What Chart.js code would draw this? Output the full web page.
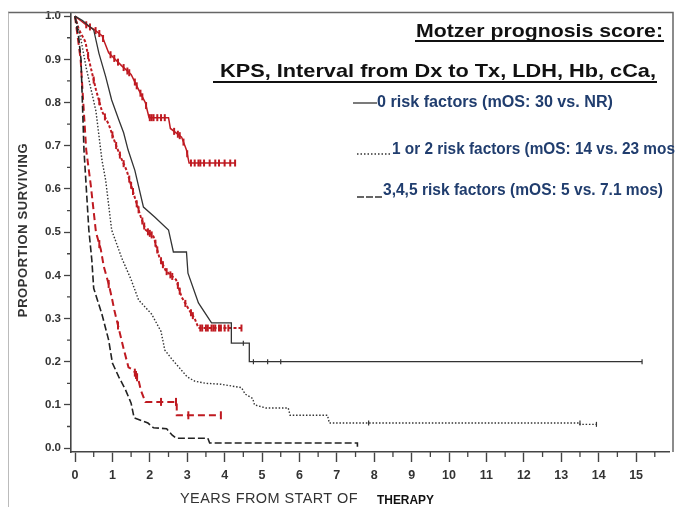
<!DOCTYPE html>
<html>
<head>
<meta charset="utf-8">
<script src="https://cdn.jsdelivr.net/npm/chart.js@4.4.1/dist/chart.umd.min.js"></script>
<style>
  html, body { margin: 0; padding: 0; background: #fff; }
  #km { display: block; }
</style>
</head>
<body>
<canvas id="km" width="675" height="507"></canvas>
<script>
// axis ticks
const yearTicks = [0, 1, 2, 3, 4, 5, 6, 7, 8, 9, 10, 11, 12, 13, 14, 15];
const survTicks = [0, 0.1, 0.2, 0.3, 0.4, 0.5, 0.6, 0.7, 0.8, 0.9, 1.0];

// earlier cohort (black curves)
const histZeroT = [0, 0.2, 0.5, 0.64, 0.82, 0.98, 1.17, 1.3, 1.42, 1.6, 1.83, 2.13, 2.5, 2.63, 2.98, 3.02, 3.3, 3.65, 4.18, 4.18, 4.66, 4.66, 15.16];
const histZeroS = [1.0, 0.99, 0.968, 0.914, 0.86, 0.806, 0.76, 0.73, 0.69, 0.643, 0.558, 0.535, 0.505, 0.454, 0.454, 0.405, 0.336, 0.29, 0.29, 0.243, 0.243, 0.20, 0.20];
const histZeroCens = [4.5, 4.77, 5.15, 5.5, 15.16];

const histMidT = [0, 0.15, 0.3, 0.56, 0.72, 0.82, 0.98, 1.25, 1.5, 1.7, 2.05, 2.3, 2.4, 2.6, 2.75, 3.0, 3.2, 3.5, 3.9, 4.1, 4.45, 4.55, 4.75, 4.8, 5.1, 5.7, 5.75, 6.75, 6.8, 13.5, 13.5, 13.94];
const histMidS = [1.0, 0.95, 0.88, 0.78, 0.667, 0.62, 0.505, 0.44, 0.39, 0.343, 0.31, 0.27, 0.227, 0.205, 0.19, 0.165, 0.155, 0.15, 0.148, 0.145, 0.14, 0.125, 0.115, 0.10, 0.093, 0.093, 0.076, 0.076, 0.058, 0.058, 0.055, 0.055];
const histMidCens = [7.85, 13.5, 13.94];

const histHighT = [0, 0.1, 0.16, 0.24, 0.37, 0.45, 0.5, 0.72, 0.9, 1.0, 1.17, 1.35, 1.5, 1.58, 1.95, 2.1, 2.45, 2.6, 2.7, 3.55, 3.6, 7.55, 7.55];
const histHighS = [1.0, 0.95, 0.9, 0.69, 0.505, 0.435, 0.37, 0.31, 0.25, 0.197, 0.165, 0.135, 0.104, 0.07, 0.058, 0.047, 0.045, 0.03, 0.023, 0.023, 0.012, 0.012, 0.003];

// recent cohort (red curves)
const newZeroT = [0, 0.3, 0.5, 0.72, 0.9, 1.25, 1.5, 1.7, 1.88, 1.98, 2.5, 2.55, 2.85, 2.98, 3.05, 4.28];
const newZeroS = [1.0, 0.98, 0.97, 0.955, 0.915, 0.885, 0.865, 0.83, 0.80, 0.765, 0.765, 0.74, 0.72, 0.69, 0.66, 0.66];
const newZeroCens = [0.3, 0.4, 0.55, 0.65, 0.75, 0.95, 1.05, 1.15, 1.3, 1.4, 1.45, 1.6, 1.65, 1.75, 1.8, 1.9, 2.0, 2.05, 2.1, 2.2, 2.3, 2.4, 2.65, 2.75, 2.8, 2.9, 3.0, 3.1, 3.2, 3.3, 3.35, 3.45, 3.6, 3.75, 3.85, 4.0, 4.15, 4.28];

const newMidT = [0, 0.1, 0.28, 0.37, 0.56, 0.72, 0.9, 1.08, 1.22, 1.38, 1.62, 1.76, 1.89, 2.1, 2.25, 2.43, 2.7, 2.85, 3.05, 3.2, 3.3, 4.45];
const newMidS = [1.0, 0.97, 0.94, 0.9, 0.83, 0.78, 0.75, 0.705, 0.674, 0.643, 0.574, 0.535, 0.505, 0.49, 0.443, 0.41, 0.39, 0.35, 0.32, 0.30, 0.278, 0.278];
const newMidCens = [0.35, 0.5, 0.65, 0.8, 1.0, 1.1, 1.2, 1.3, 1.45, 1.5, 1.55, 1.65, 1.7, 1.8, 1.85, 1.95, 2.0, 2.05, 2.15, 2.2, 2.3, 2.35, 2.45, 2.55, 2.6, 2.75, 2.8, 2.95, 3.1, 3.15, 3.35, 3.4, 3.5, 3.55, 3.65, 3.7, 3.75, 3.85, 3.9, 4.0, 4.1, 4.45];

const newHighT = [0, 0.15, 0.3, 0.42, 0.56, 0.69, 0.77, 0.9, 0.98, 1.05, 1.18, 1.3, 1.43, 1.57, 1.7, 1.76, 1.88, 2.72, 2.72, 3.9];
const newHighS = [1.0, 0.9, 0.69, 0.61, 0.5, 0.46, 0.42, 0.38, 0.35, 0.32, 0.273, 0.23, 0.187, 0.18, 0.157, 0.134, 0.107, 0.107, 0.076, 0.076];
const newHighCens = [0.65, 0.9, 1.15, 1.6, 1.63, 1.66, 2.3, 2.7, 3.03, 3.9];

const RED = '#bf1a21';
const NAVY = '#203d6e';

function pts(ts, ss) {
  return ts.map((t, i) => ({ x: t, y: ss[i] }));
}

// survival value on a curve at time t (linear between read points)
function survAt(ts, ss, t) {
  for (let i = 1; i < ts.length; i++) {
    if (ts[i] === ts[i - 1]) continue;
    if (t <= ts[i]) {
      const f = (t - ts[i - 1]) / (ts[i] - ts[i - 1]);
      return ss[i - 1] + f * (ss[i] - ss[i - 1]);
    }
  }
  return ss[ss.length - 1];
}

function censPts(ts, ss, cens) {
  return cens.map(t => ({ x: t, y: survAt(ts, ss, t) }));
}

function curve(ts, ss, color, width, dash) {
  return {
    data: pts(ts, ss),
    showLine: true,
    borderColor: color,
    borderWidth: width,
    borderDash: dash,
    pointRadius: 0,
    tension: 0,
    fill: false
  };
}

function ticksSet(ts, ss, cens, color, r, w) {
  return {
    data: censPts(ts, ss, cens),
    showLine: false,
    pointStyle: 'line',
    rotation: 90,
    pointRadius: r,
    borderColor: color,
    borderWidth: w
  };
}

function fitText(ctx, text, x, y, width) {
  const w = ctx.measureText(text).width;
  ctx.save();
  ctx.translate(x, y);
  ctx.scale(width / w, 1);
  ctx.textAlign = 'left';
  ctx.textBaseline = 'middle';
  ctx.fillText(text, 0, 0);
  ctx.restore();
}

function underline(ctx, x1, x2, y) {
  ctx.save();
  ctx.strokeStyle = '#111';
  ctx.lineWidth = 1.8;
  ctx.beginPath(); ctx.moveTo(x1, y); ctx.lineTo(x2, y); ctx.stroke();
  ctx.restore();
}

const decorations = {
  id: 'decorations',
  afterDraw(chart) {
    const ctx = chart.ctx;
    const xs = chart.scales.x, ys = chart.scales.y;
    const area = chart.chartArea;
    ctx.save();

    // picture frame
    ctx.strokeStyle = '#bbb';
    ctx.lineWidth = 1;
    ctx.beginPath();
    ctx.moveTo(8.5, 507); ctx.lineTo(8.5, 11.5);
    ctx.stroke();
    ctx.strokeStyle = '#666';
    ctx.lineWidth = 1.5;
    ctx.beginPath();
    ctx.moveTo(8.5, 12.5); ctx.lineTo(673, 12.5); ctx.lineTo(673, area.bottom);
    ctx.stroke();

    // minor ticks
    ctx.strokeStyle = '#444';
    ctx.lineWidth = 1.3;
    ctx.beginPath();
    yearTicks.forEach(v => {
      const px = xs.getPixelForValue(v + 0.5);
      if (px > area.right) return;
      ctx.moveTo(px, area.bottom); ctx.lineTo(px, area.bottom + 5);
    });
    survTicks.slice(1).forEach(v => {
      const py = ys.getPixelForValue(v - 0.05);
      ctx.moveTo(area.left, py); ctx.lineTo(area.left - 4, py);
    });
    ctx.stroke();

    // axis titles
    ctx.fillStyle = '#333';
    ctx.textBaseline = 'middle';
    ctx.textAlign = 'center';
    ctx.letterSpacing = '0.6px';
    ctx.save();
    ctx.translate(23, 230);
    ctx.rotate(-Math.PI / 2);
    ctx.font = 'bold 13px "Liberation Sans"';
    ctx.fillText('PROPORTION SURVIVING', 0, 0);
    ctx.restore();

    ctx.letterSpacing = '0.4px';
    ctx.font = '14px "Liberation Sans"';
    fitText(ctx, 'YEARS FROM START OF', 180, 499, 178);
    ctx.letterSpacing = '0px';
    ctx.fillStyle = '#111';
    ctx.font = 'bold 12px "Liberation Sans"';
    fitText(ctx, 'THERAPY', 377, 501, 57);

    // score headers
    ctx.fillStyle = '#111';
    ctx.font = 'bold 19px "Liberation Sans"';
    fitText(ctx, 'Motzer prognosis score:', 416, 32, 247);
    underline(ctx, 415, 664, 41);
    fitText(ctx, 'KPS, Interval from Dx to Tx, LDH, Hb, cCa,', 220, 72, 436);
    underline(ctx, 213, 657, 82);

    // legend rows
    ctx.fillStyle = NAVY;
    ctx.font = 'bold 16px "Liberation Sans"';
    fitText(ctx, '0 risk factors (mOS: 30 vs. NR)', 377, 103, 236);
    fitText(ctx, '1 or 2 risk factors (mOS: 14 vs. 23 mos', 392, 150, 283);
    fitText(ctx, '3,4,5 risk factors (mOS: 5 vs. 7.1 mos)', 383, 191, 280);

    ctx.strokeStyle = '#333';
    ctx.lineWidth = 1.3;
    ctx.beginPath(); ctx.moveTo(353, 103); ctx.lineTo(377, 103); ctx.stroke();
    ctx.setLineDash([1.5, 2]);
    ctx.beginPath(); ctx.moveTo(357, 154); ctx.lineTo(390, 154); ctx.stroke();
    ctx.setLineDash([7, 2]);
    ctx.lineWidth = 1.6;
    ctx.beginPath(); ctx.moveTo(357, 197); ctx.lineTo(382, 197); ctx.stroke();
    ctx.restore();
  }
};

new Chart(document.getElementById('km'), {
  type: 'scatter',
  data: {
    datasets: [
      curve(histZeroT, histZeroS, '#333', 1.3, []),
      curve(histMidT, histMidS, '#333', 1.4, [1.5, 1.8]),
      curve(histHighT, histHighS, '#222', 1.6, [7, 3]),
      ticksSet(histZeroT, histZeroS, histZeroCens, '#333', 2.5, 1.2),
      ticksSet(histMidT, histMidS, histMidCens, '#333', 2.5, 1.2),
      curve(newZeroT, newZeroS, RED, 1.5, []),
      curve(newMidT, newMidS, RED, 2, [3, 2]),
      curve(newHighT, newHighS, RED, 2, [7, 4]),
      ticksSet(newZeroT, newZeroS, newZeroCens, RED, 3.5, 2),
      ticksSet(newMidT, newMidS, newMidCens, RED, 3.5, 2),
      ticksSet(newHighT, newHighS, newHighCens, RED, 4, 2)
    ]
  },
  options: {
    responsive: false,
    animation: false,
    devicePixelRatio: 1,
    layout: { padding: { left: 0, right: 3, top: 14, bottom: 0 } },
    plugins: { legend: { display: false }, tooltip: { enabled: false } },
    scales: {
      x: {
        type: 'linear',
        min: -0.107,
        max: 15.88,
        afterBuildTicks: s => { s.ticks = yearTicks.map(v => ({ value: v })); },
        afterFit: s => { s.height = 55; },
        ticks: {
          color: '#333',
          font: { family: 'Liberation Sans', size: 12.5, weight: 'bold' },
          padding: 6,
          maxRotation: 0,
          autoSkip: false
        },
        grid: { drawOnChartArea: false, drawTicks: true, tickLength: 10, tickColor: '#444', tickWidth: 1.4 },
        border: { color: '#444', width: 1.6 }
      },
      y: {
        type: 'linear',
        min: -0.009,
        max: 1.005,
        afterBuildTicks: s => { s.ticks = survTicks.map(v => ({ value: v })); },
        afterFit: s => { s.width = 71; },
        ticks: {
          color: '#333',
          font: { family: 'Liberation Sans', size: 11.5, weight: 'bold' },
          padding: 3,
          callback: v => v.toFixed(1)
        },
        grid: { drawOnChartArea: false, drawTicks: true, tickLength: 7, tickColor: '#444', tickWidth: 1.3 },
        border: { color: '#444', width: 1.6 }
      }
    }
  },
  plugins: [decorations]
});
</script>
</body>
</html>
